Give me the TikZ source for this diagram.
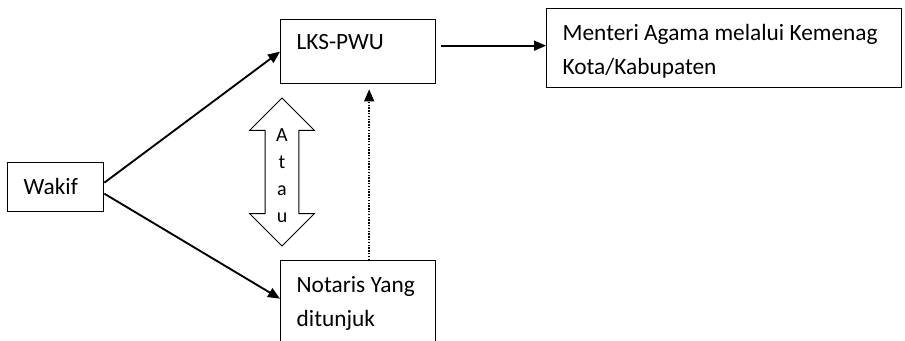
\documentclass[tikz,border=0pt]{standalone}
\usepackage{fontspec}
\setmainfont{Carlito}
\usetikzlibrary{arrows.meta, positioning, calc, shapes.arrows}
\tikzset{
  box/.style={draw=black, line width=1pt, anchor=north west, align=flush left,
              inner xsep=0pt, inner ysep=0pt, text height=23.6pt,
              font=\fontsize{17.5}{25.5}\selectfont,
              execute at begin node={\leftskip=12pt\relax}},
  arr/.style={-{Triangle[length=9pt,width=7.5pt]}, line width=1.4pt},
  dotarr/.style={arr, line width=1.1pt, densely dotted},
  twoway/.style={double arrow, shape border rotate=90, draw=black, line width=0.75pt,
                 align=center, font=\fontsize{15}{20.2}\selectfont},
}

\begin{document}
\begin{tikzpicture}[x=0.75pt, y=0.75pt]
\useasboundingbox (0,0) rectangle (905,340);
\clip (0,0) rectangle (905,340);

% boxes
\node[box, text width=72pt, text depth=13.15pt] (wakif) at (7,178) {Wakif};
\node[box, text width=116.25pt, text height=22pt, text depth=26pt] (lks) at (280,321) {LKS-PWU};
\node[box, text width=266.25pt, text depth=35.65pt] (menteri) at (546,332) {Menteri Agama melalui Kemenag\\Kota/Kabupaten};
\node[box, text width=116.25pt, text depth=43.9pt] (notaris) at (280,80) {Notaris Yang\\ditunjuk};

% either way
\node[twoway, minimum height=111pt, minimum width=47pt, double arrow head extend=11.5pt,
      inner xsep=8pt] (atau) at (282,168) {\rule{0pt}{15.7pt}A\\t\\a\\u};

% connectors
\draw[arr] ($(wakif.east)+(0,4.5)$) -- (lks.west);
\draw[arr] ($(wakif.east)+(0,-6.5)$) -- ($(notaris.west)+(0,7)$);
\draw[arr] ($(lks.east)+(5,6)$) -- ($(lks.east -| menteri.west)+(0,6)$);
\draw[dotarr] ($(notaris.north)+(11,0)$) -- ($(lks.south)+(11,-5)$);
\end{tikzpicture}
\end{document}
